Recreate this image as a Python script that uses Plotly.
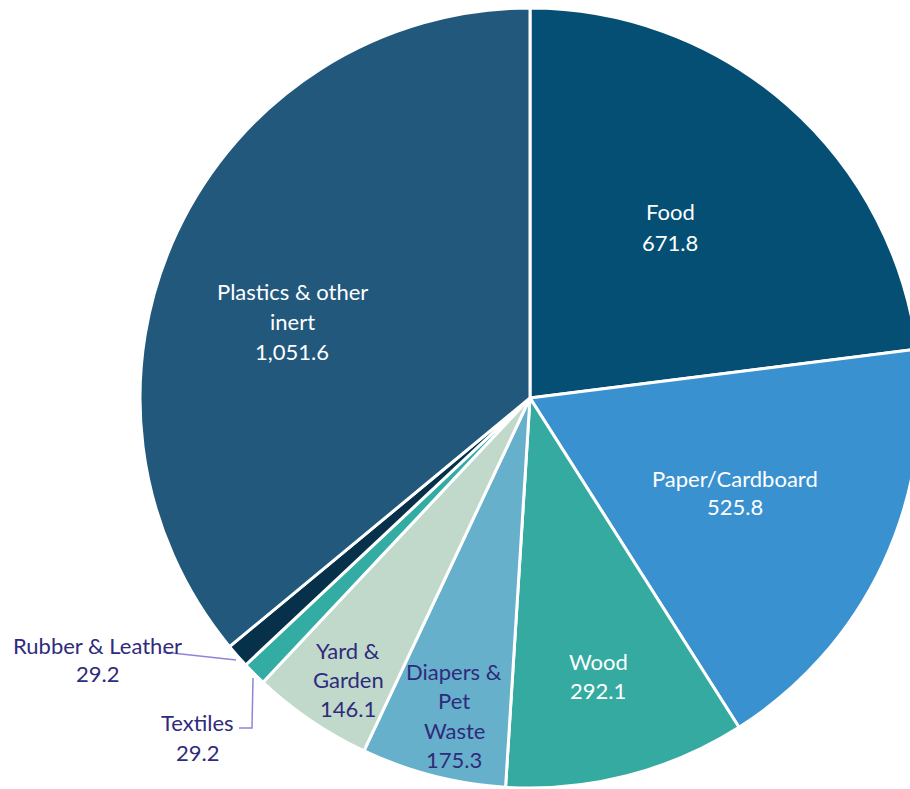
import plotly.graph_objects as go

# Municipal waste composition (tons), clockwise from 12 o'clock
categories = ["Food", "Paper/Cardboard", "Wood", "Diapers & Pet Waste",
              "Yard & Garden", "Textiles", "Rubber & Leather",
              "Plastics & other inert"]
values = [671.8, 525.8, 292.1, 175.3, 146.1, 29.2, 29.2, 1051.6]
colors = ["#044F73", "#3A91CF", "#35AAA0", "#67B0CB",
          "#C1D9CB", "#33ADA4", "#07304A", "#21587C"]

# wrapped label lines per slice
label_lines = {
    "Food": ["Food"],
    "Paper/Cardboard": ["Paper/Cardboard"],
    "Wood": ["Wood"],
    "Diapers & Pet Waste": ["Diapers &", "Pet", "Waste"],
    "Yard & Garden": ["Yard &", "Garden"],
    "Textiles": ["Textiles"],
    "Rubber & Leather": ["Rubber & Leather"],
    "Plastics & other inert": ["Plastics & other", "inert"],
}
# label anchor (pixel x, top-line pixel y), line spacing, text color
label_pos = {
    "Food": (670, 212, 30, "white"),
    "Paper/Cardboard": (735, 478, 29, "white"),
    "Wood": (598, 661, 29, "white"),
    "Diapers & Pet Waste": (454, 671, 29.5, "#2F2B7C"),
    "Yard & Garden": (348, 650, 29, "#2F2B7C"),
    "Textiles": (197, 722, 30, "#2F2B7C"),
    "Rubber & Leather": (97, 645, 28, "#2F2B7C"),
    "Plastics & other inert": (292, 291, 30, "white"),
}

W, H = 920, 789
ML, MR, MT, MB = 140, 0, 8, 1
PW, PH = W - ML - MR, H - MT - MB


def px(x, y):
    return (x - ML) / PW, 1 - (y - MT) / PH


fig = go.Figure(go.Pie(
    labels=categories,
    values=values,
    sort=False,
    direction="clockwise",
    rotation=0,
    marker=dict(colors=colors, line=dict(color="white", width=3)),
    textinfo="none",
    hoverinfo="label+value",
    showlegend=False,
))

font_family = "Lato, 'Open Sans', sans-serif"
annotations = []
for cat, val in zip(categories, values):
    x, y0, step, col = label_pos[cat]
    lines = label_lines[cat] + [f"{val:,.1f}"]
    for i, line in enumerate(lines):
        ax, ay = px(x, y0 + i * step)
        annotations.append(dict(
            x=ax, y=ay, xref="paper", yref="paper", text=line,
            showarrow=False, xanchor="center", yanchor="middle",
            font=dict(family=font_family, size=22, color=col)))

# leader lines for the two small outside labels
lead_color = "#8C86D8"
shapes = []
for pts in ([(163, 652), (236, 660)],
            [(253, 678), (252, 728), (239, 728)]):
    path = ""
    for i, (x, y) in enumerate(pts):
        X, Y = px(x, y)
        path += ("M" if i == 0 else "L") + f"{X},{Y} "
    shapes.append(dict(type="path", xref="paper", yref="paper", path=path,
                       line=dict(color=lead_color, width=1.5)))

fig.update_layout(
    width=W, height=H,
    margin=dict(l=ML, r=MR, t=MT, b=MB, autoexpand=False),
    paper_bgcolor="white", plot_bgcolor="white",
    annotations=annotations, shapes=shapes,
)

fig.write_html("out.html",
               post_script="document.body.style.overflow='hidden';")
